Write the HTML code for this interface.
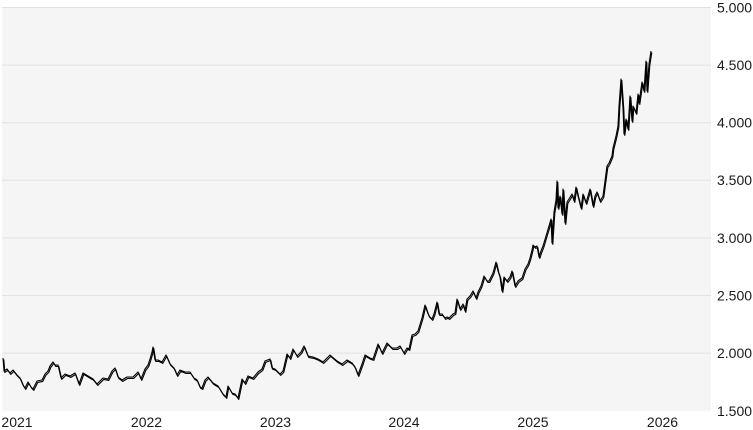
<!DOCTYPE html>
<html>
<head>
<meta charset="utf-8">
<style>
  html,body{margin:0;padding:0;background:#fff;}
  svg{display:block;}
  text{font-family:"Liberation Sans",Arial,sans-serif;font-size:14px;fill:#1a1a1a;}
</style>
</head>
<body>
<svg width="753" height="430" viewBox="0 0 753 430" xmlns="http://www.w3.org/2000/svg">
  <rect x="2" y="7.5" width="709" height="403.5" fill="#f5f5f5"/>
  <g stroke="#e2e2e2" stroke-width="1">
    <line x1="2" x2="711" y1="7.5" y2="7.5"/>
    <line x1="2" x2="711" y1="65.1" y2="65.1"/>
    <line x1="2" x2="711" y1="122.7" y2="122.7"/>
    <line x1="2" x2="711" y1="180.3" y2="180.3"/>
    <line x1="2" x2="711" y1="237.9" y2="237.9"/>
    <line x1="2" x2="711" y1="295.5" y2="295.5"/>
    <line x1="2" x2="711" y1="353.1" y2="353.1"/>
  </g>
  <line x1="2" x2="711" y1="411" y2="411" stroke="#fafafa" stroke-width="1"/>

  <g fill="none" stroke="#000" stroke-linejoin="round">
    <polyline id="s" stroke-width="1.1" points="3,358 4,371 7,369 10,373 13,370 17,375 20,378 23,385 25,388 28,382 31,387 33,389 37,381 42,380 45,374 48,371 50,366 53,362 55,365 58,365 61,378 65,374 70,376 75,373 79,384 83,373 88,376 93,379 97,384 103,378 108,379 112,371 115,368 118,377 122,380 127,377 133,377 138,372 141,379 145,369 148,365 150,359 152,352 153,347 155,360 158,360 162,362 166,355 170,364 174,368 177,375 180,370 185,372 190,372 194,378 197,380 200,387 202,388 205,380 208,377 213,383 218,386 223,394 226,397 228,386 232,393 235,394 238,398 242,379 245,383 248,376 253,378 258,372 262,369 265,361 270,359 272,368 275,369 280,374 283,371 287,354 290,358 293,349 297,356 301,352 304,346 308,356 313,357 318,359 323,362 327,358 330,355 337,361 342,364 347,360 352,363 355,367 358,375 362,364 365,355 370,358 373,359 378,344 382,353 387,343 392,348 397,348 400,346 404,353 407,348 409,349 412,335 415,334 418,331 422,318 425,305 427,311 429,316 432,319 434,314 437,302 439,314 442,314 445,318 447,317 449,318 453,314 455,313 457,299 460,309 463,304 465,311 467,299 470,296 473,291 476,298 478,292 481,286 484,276 487,281 489,281 493,273 496,262 498,271 500,277 502,291 504,277 507,281 510,277 512,271 515,286 518,281 522,278 525,269 528,264 530,258 532,250 533,245 535,247 537,246 539,257 541,251 543,246 546,236 549,226 551,219 552,243 554,212 556,200 557,181 558,208 560,196 562,214 563,189 565,223 567,202 569,199 572,194 574,201 576,187 578,196 581,208 583,194 586,203 588,196 590,189 593,206 595,196 597,192 600,201 603,196 605,181 607,166 609,163 612,156 613,148 616,136 618,126 619,106 621,79 623,108 624,134 626,119 628,129 630,96 632,121 633,106 636,113 638,94 639,103 642,82 644,91 646,61 647,91 649,64 651,51"/>
    <use href="#s" transform="translate(0.8,1.4)" stroke-width="0.8"/>
  </g>

  <g text-anchor="start">
    <text x="717" y="12.5">5.000</text>
    <text x="717" y="70">4.500</text>
    <text x="717" y="127.5">4.000</text>
    <text x="717" y="185">3.500</text>
    <text x="717" y="243">3.000</text>
    <text x="717" y="300.5">2.500</text>
    <text x="717" y="358">2.000</text>
    <text x="717" y="416">1.500</text>
  </g>
  <g text-anchor="middle">
    <text x="17" y="427">2021</text>
    <text x="146.5" y="427">2022</text>
    <text x="275.5" y="427">2023</text>
    <text x="404" y="427">2024</text>
    <text x="533" y="427">2025</text>
    <text x="662.5" y="427">2026</text>
  </g>
</svg>
</body>
</html>
